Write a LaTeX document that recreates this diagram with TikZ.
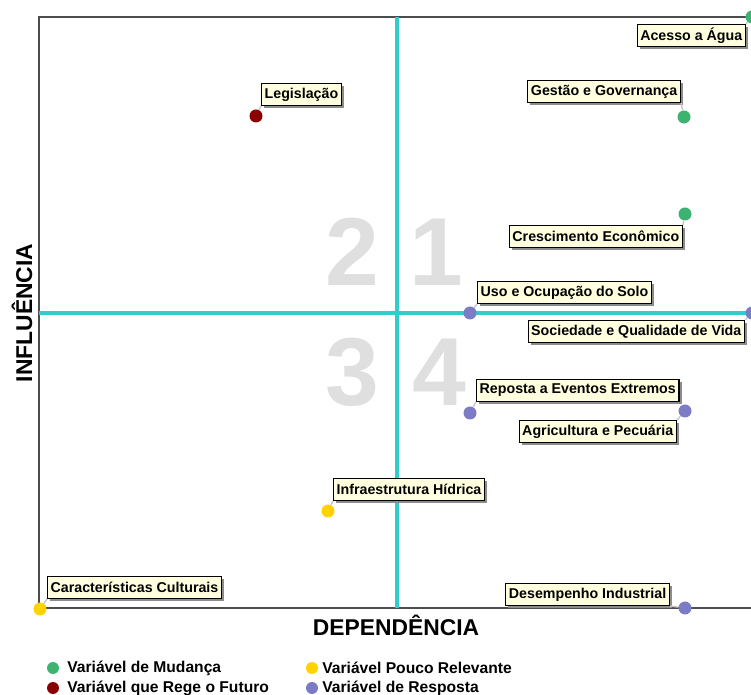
\documentclass[tikz,border=0pt]{standalone}
\usepackage{fontspec}
\setmainfont{Liberation Sans}
\usetikzlibrary{shadows}
\definecolor{mudanca}{HTML}{3CB371}
\definecolor{rege}{HTML}{8B0000}
\definecolor{pouco}{HTML}{FFD200}
\definecolor{resposta}{HTML}{7B7BC6}
\definecolor{eixo}{HTML}{33CCCC}
\definecolor{caixa}{HTML}{FFFFE0}
\begin{document}
\begin{tikzpicture}[x=0.02cm, y=-0.02cm,
  ponto/.style={circle, fill=#1, inner sep=0pt, minimum size=0.26cm},
  rotulo/.style={draw=black, fill=caixa, line width=0.6pt, inner sep=1.8pt,
    minimum height=0.44cm, font=\fontsize{8.1}{9}\selectfont\bfseries,
    drop shadow={shadow xshift=0.05cm, shadow yshift=-0.05cm, fill=gray!90, opacity=1}},
  liga/.style={draw=gray!45, line width=0.8pt},
  numero/.style={text=gray!25, font=\fontsize{55}{55}\selectfont\bfseries},
  legenda/.style={anchor=west, inner sep=0pt, font=\fontsize{8.9}{11}\selectfont\bfseries}]
  \useasboundingbox (0,0) rectangle (751,695);
  \clip (0,0) rectangle (751,695);
  % quadro e eixos
  \draw[gray!60!black, line width=0.8pt] (751,17) -- (39,17) -- (39,608) -- (751,608);
  \draw[eixo, line width=2.3pt] (397,17) -- (397,608);
  \draw[eixo, line width=2.3pt] (39,313) -- (751,313);
  % quadrantes
  \node[numero] (q2) at (352,252) {2};
  \node[numero] (q1) at (436,252) {1};
  \node[numero] (q3) at (352,372) {3};
  \node[numero] (q4) at (439,372) {4};
  % variaveis
  \node[ponto=mudanca] (acesso) at (752,17) {};
  \node[ponto=mudanca] (gestao) at (684,117) {};
  \node[ponto=mudanca] (cresc) at (685,214) {};
  \node[ponto=rege] (legis) at (256,116) {};
  \node[ponto=resposta] (uso) at (470,313) {};
  \node[ponto=resposta] (socied) at (752,313) {};
  \node[ponto=resposta] (eventos) at (470,413) {};
  \node[ponto=resposta] (agric) at (685,411) {};
  \node[ponto=pouco] (infra) at (328,511) {};
  \node[ponto=pouco] (cultura) at (40,609) {};
  \node[ponto=resposta] (indust) at (685,608) {};
  % rotulos
  \node[rotulo, anchor=north east] (acessoL) at (746,24) {Acesso a Água};
  \node[rotulo, anchor=south east] (gestaoL) at (681,103) {Gestão e Governança};
  \node[rotulo, anchor=north east] (crescL) at (683,225) {Crescimento Econômico};
  \node[rotulo, anchor=south west] (legisL) at (261,106) {Legislação};
  \node[rotulo, anchor=south west] (usoL) at (477,304) {Uso e Ocupação do Solo};
  \node[rotulo, anchor=north east] (sociedL) at (745,320) {Sociedade e Qualidade de Vida};
  \node[rotulo, anchor=south west] (eventosL) at (476,402) {Reposta a Eventos Extremos};
  \node[rotulo, anchor=north east] (agricL) at (677,420) {Agricultura e Pecuária};
  \node[rotulo, anchor=south west] (infraL) at (333,501) {Infraestrutura Hídrica};
  \node[rotulo, anchor=south west] (culturaL) at (47,599) {Características Culturais};
  \node[rotulo, anchor=south east] (industL) at (670,606) {Desempenho Industrial};
  \draw[liga] (acesso) -- (acessoL.north east);
  \draw[liga] (gestao) -- (gestaoL.south east);
  \draw[liga] (cresc) -- (crescL.north east);
  \draw[liga] (legis) -- (legisL.south west);
  \draw[liga] (uso) -- (usoL.south west);
  \draw[liga] (socied) -- (sociedL.north east);
  \draw[liga] (eventos) -- (eventosL.south west);
  \draw[liga] (agric) -- (agricL.north east);
  \draw[liga] (infra) -- (infraL.south west);
  \draw[liga] (cultura) -- (culturaL.south west);
  \draw[liga] (indust) -- (industL.south east);
  % titulos dos eixos
  \node[font=\fontsize{13}{13}\selectfont\bfseries] (dep) at (396,625) {DEPENDÊNCIA};
  \node[rotate=90, font=\fontsize{13}{13}\selectfont\bfseries] (infl) at (22,313) {INFLUÊNCIA};
  % legenda
  \node[ponto=mudanca, minimum size=0.24cm] (lg1) at (53,668) {};
  \node[ponto=rege, minimum size=0.24cm] (lg2) at (53,688) {};
  \node[ponto=pouco, minimum size=0.24cm] (lg3) at (312,668) {};
  \node[ponto=resposta, minimum size=0.24cm] (lg4) at (312,688) {};
  \node[legenda] (lt1) at (67,668) {Variável de Mudança};
  \node[legenda] (lt2) at (67,688) {Variável que Rege o Futuro};
  \node[legenda] (lt3) at (322,668) {Variável Pouco Relevante};
  \node[legenda] (lt4) at (322,688) {Variável de Resposta};
\end{tikzpicture}
\end{document}
